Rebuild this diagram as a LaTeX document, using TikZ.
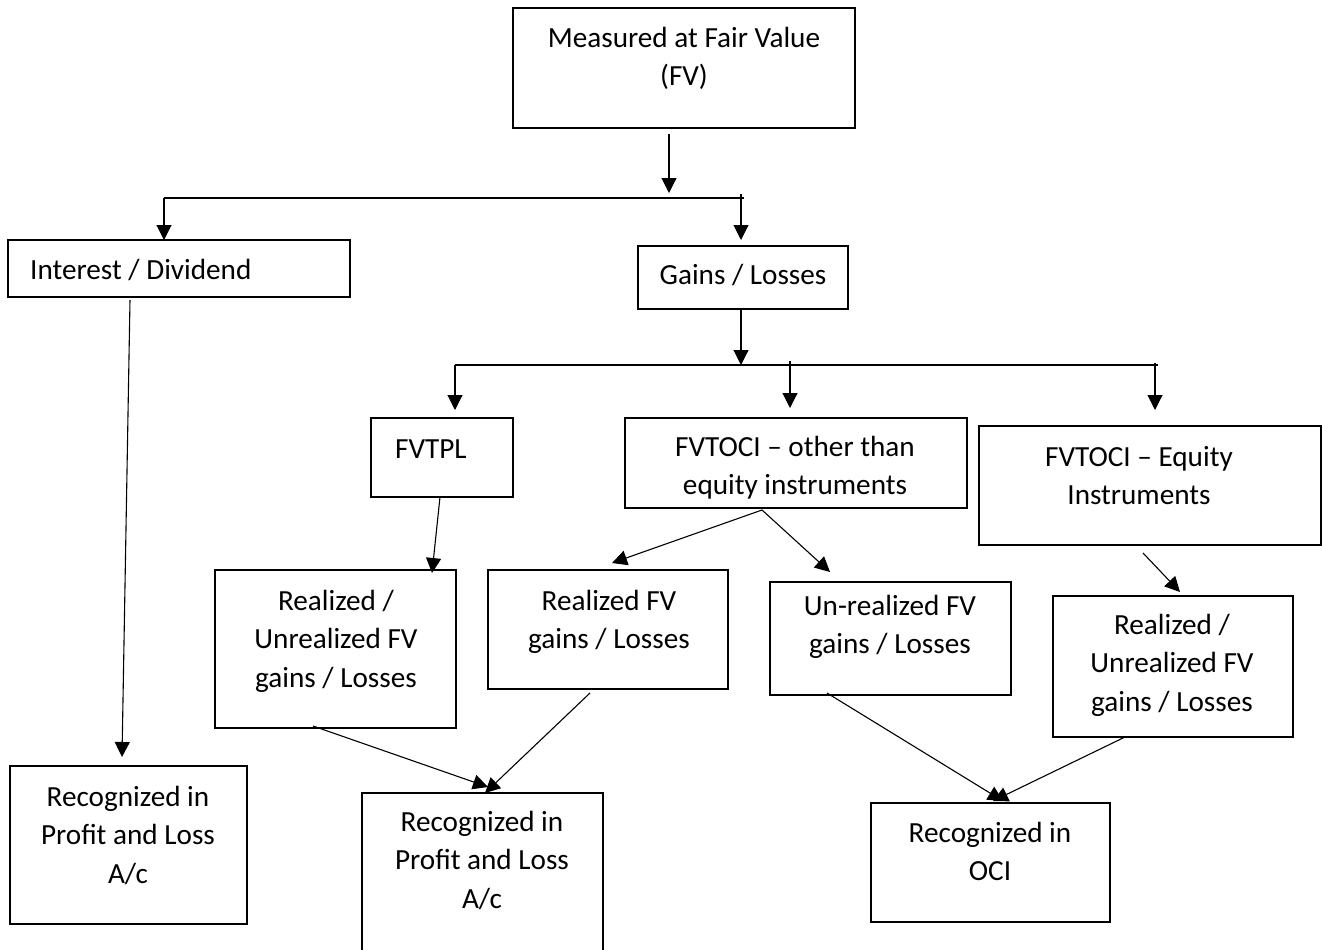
\documentclass[tikz,border=0pt]{standalone}
\usepackage{fontspec}
\setmainfont{Carlito}
\usetikzlibrary{arrows.meta,calc}
\newcommand\tstrut{\rule{0pt}{24pt}}
\begin{document}
\begin{tikzpicture}[x=1pt,y=-1pt,
  box/.style={draw, line width=1.8pt, rectangle, anchor=north west, inner sep=0pt, outer sep=0pt},
  txt/.style={anchor=north, inner sep=0pt, align=center, font=\fontsize{29.2}{38.5}\selectfont},
  txtl/.style={txt, anchor=north west, align=left},
  conn/.style={line width=1.1pt, -{Triangle[width=15pt,length=15pt]}},
  bar/.style={line width=1.1pt}]
\useasboundingbox (0,0) rectangle (1322,950);

% boxes
\node[box, minimum width=342pt, minimum height=120pt] (top) at (513,8) {};
\node[box, minimum width=342pt, minimum height=57pt] (int) at (8,240) {};
\node[box, minimum width=210pt, minimum height=63pt] (gl) at (638,246) {};
\node[box, minimum width=142pt, minimum height=79pt] (tpl) at (371,418) {};
\node[box, minimum width=342pt, minimum height=90pt] (oci1) at (625,418) {};
\node[box, minimum width=342pt, minimum height=119pt] (oci2) at (979,426) {};
\node[box, minimum width=241pt, minimum height=158pt] (r1) at (215,570) {};
\node[box, minimum width=240pt, minimum height=119pt] (rfv) at (488,570) {};
\node[box, minimum width=241pt, minimum height=113pt] (ufv) at (770,582) {};
\node[box, minimum width=240pt, minimum height=141pt] (r2) at (1053,596) {};
\node[box, minimum width=237pt, minimum height=158pt] (recL) at (10,766) {};
\node[box, minimum width=241pt, minimum height=190pt] (recM) at (362,793) {};
\node[box, minimum width=239pt, minimum height=119pt] (recO) at (871,803) {};

% texts (positions: first baseline minus strut height)
\node[txt] (topT) at (684,23) {\tstrut Measured at Fair Value\\(FV)};
\node[txtl] (intT) at (30,255) {\tstrut Interest / Dividend};
\node[txt] (glT) at (743,260) {\tstrut Gains / Losses};
\node[txtl] (tplT) at (395,434) {\tstrut FVTPL};
\node[txt] (oci1T) at (795,432) {\tstrut FVTOCI -- other than\\equity instruments};
\node[txt] (oci2T) at (1139,442) {\tstrut FVTOCI -- Equity\\Instruments};
\node[txt] (r1T) at (336,586) {\tstrut Realized /\\Unrealized FV\\gains / Losses};
\node[txt] (rfvT) at (609,586) {\tstrut Realized FV\\gains / Losses};
\node[txt] (ufvT) at (890,591) {\tstrut Un-realized FV\\gains / Losses};
\node[txt] (r2T) at (1172,610) {\tstrut Realized /\\Unrealized FV\\gains / Losses};
\node[txt] (recLT) at (128,782) {\tstrut Recognized in\\Profit and Loss\\A/c};
\node[txt] (recMT) at (482,807) {\tstrut Recognized in\\Profit and Loss\\A/c};
\node[txt] (recOT) at (990,818) {\tstrut Recognized in\\OCI};

% first split
\coordinate (s1L) at ($(int.north west)+(156,-42)$);
\coordinate (s1R) at ($(gl.north west)+(106,-48)$);
\draw[conn] ($(top.south west)+(156,6)$) -- ($(top.south west)+(156,65)$);
\draw[bar] (s1L) -- (s1R);
\draw[conn] (s1L) -- ($(int.north west)+(156,0)$);
\draw[conn] ($(gl.north west)+(103,-52)$) -- ($(gl.north west)+(103,-6)$);

% second split
\coordinate (s2L) at ($(tpl.north west)+(84,-53)$);
\coordinate (s2R) at ($(oci2.north west)+(179,-61)$);
\draw[conn] ($(gl.south west)+(103,0)$) -- ($(gl.south west)+(103,56)$);
\draw[bar] (s2L) -- (s2R);
\draw[conn] (s2L) -- ($(tpl.north west)+(84,-8)$);
\draw[conn] ($(oci1.north west)+(165,-57)$) -- ($(oci1.north west)+(165,-10)$);
\draw[conn] ($(oci2.north west)+(176,-63)$) -- ($(oci2.north west)+(176,-16)$);

% downward links
\draw[conn] ($(int.south west)+(122,3)$) -- ($(recL.north west)+(112,-9)$);
\draw[conn] ($(tpl.south west)+(69,0)$) -- ($(r1.north east)+(-24,3)$);
\draw[conn] ($(oci1.south west)+(137,2)$) -- ($(rfv.north west)+(124,-7)$);
\draw[conn] ($(oci1.south west)+(137,2)$) -- ($(ufv.north west)+(60,-10)$);
\draw[conn] ($(oci2.south west)+(164,8)$) -- ($(r2.north west)+(127,-4)$);
\draw[conn] ($(r1.south west)+(98,-2)$) -- ($(recM.north west)+(126,-6)$);
\draw[conn] ($(rfv.south west)+(102,4)$) -- ($(recM.north west)+(123,0)$);
\draw[conn] ($(ufv.south west)+(57,-2)$) -- ($(recO.north west)+(132,-2)$);
\draw[conn] ($(r2.south west)+(72,0)$) -- ($(recO.north west)+(122,-2)$);
\end{tikzpicture}
\end{document}
